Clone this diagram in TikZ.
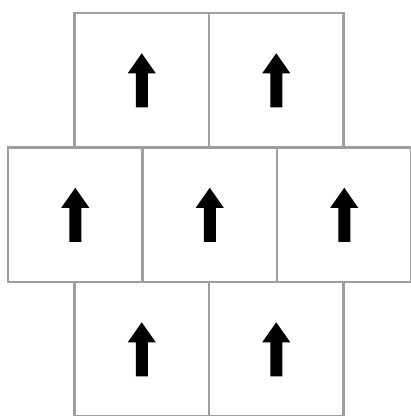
\documentclass[tikz,border=0pt]{standalone}
\begin{document}
\begin{tikzpicture}[x=1pt,y=-1pt,
  cell/.style={draw=black!38, line width=2.5pt, minimum size=134.5pt, inner sep=0pt, fill=white},
  uparrow/.style={fill=black}]
\useasboundingbox (0,0) rectangle (411,416);
\newcommand{\uparr}[1]{\fill[uparrow,shift={(#1.center)}] (0,-27) -- (14,-7) -- (6,-7) -- (6,27) -- (-6,27) -- (-6,-7) -- (-14,-7) -- cycle;}
% top row
\node[cell] (t1) at (141.75,80.25) {};
\node[cell] (t2) at (276.25,80.25) {};
% middle row
\node[cell] (m1) at (75.25,214.75) {};
\node[cell] (m2) at (209.75,214.75) {};
\node[cell] (m3) at (344.25,214.75) {};
% bottom row
\node[cell] (b1) at (141.75,349.25) {};
\node[cell] (b2) at (276.25,349.25) {};
\foreach \n in {t1,t2,m1,m2,m3,b1,b2} {\uparr{\n}}
\end{tikzpicture}
\end{document}
